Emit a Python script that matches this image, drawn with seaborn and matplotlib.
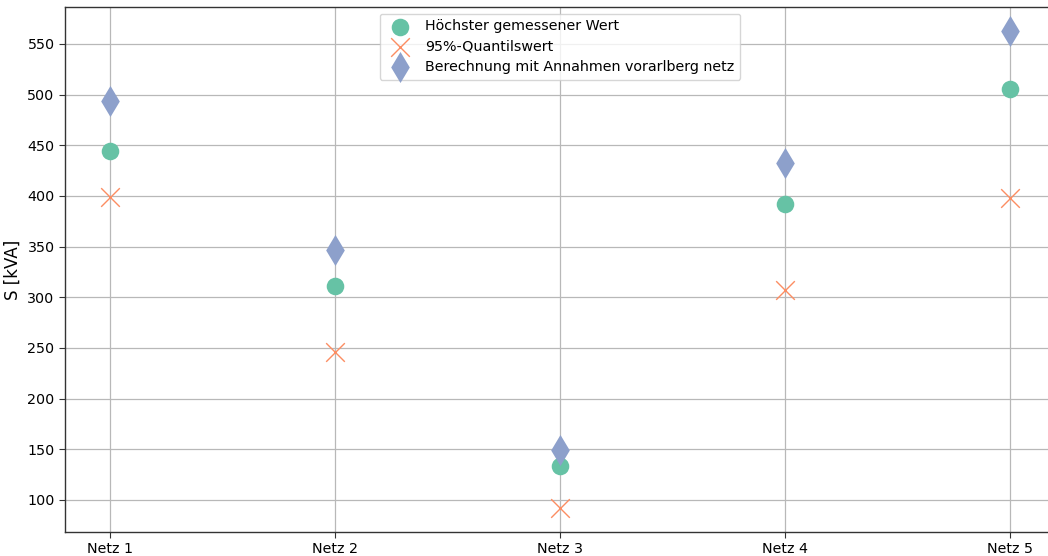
import matplotlib
matplotlib.use("Agg")
import matplotlib.pyplot as plt
import seaborn as sns
from matplotlib.ticker import MultipleLocator

netze = ["Netz 1", "Netz 2", "Netz 3", "Netz 4", "Netz 5"]
hoechster = [444, 311, 134, 392, 506]
quantil95 = [399, 246, 92, 307, 398]
berechnung = [494, 347, 149, 433, 563]
serien = ["Höchster gemessener Wert", "95%-Quantilswert",
          "Berechnung mit Annahmen vorarlberg netz"]

sns.set_style("ticks")
plt.rcParams["font.family"] = ["DejaVu Sans"]
plt.rcParams["text.color"] = "black"
plt.rcParams["axes.labelcolor"] = "black"
plt.rcParams["xtick.color"] = "black"
plt.rcParams["ytick.color"] = "black"

fig = plt.figure(figsize=(10.48, 5.56), dpi=100)
ax = fig.add_axes([65 / 1048, 24 / 556, 990 / 1048, 525 / 556])

pal = sns.color_palette("Set2", 3)
sns.scatterplot(x=netze, y=hoechster, marker="o", color=pal[0], s=160,
                linewidth=0, label=serien[0], ax=ax, zorder=3)
sns.scatterplot(x=netze, y=quantil95, marker="x", color=pal[1], s=180,
                linewidth=1.0, label=serien[1], ax=ax, zorder=3)
sns.scatterplot(x=netze, y=berechnung, marker="d", color=pal[2], s=250,
                linewidth=0, label=serien[2], ax=ax, zorder=3)

ax.grid(True, color="#b8b8b8", linewidth=0.9)
ax.set_axisbelow(True)
ax.set_xlabel("")
ax.set_ylabel("S [kVA]", fontsize=12)
ax.yaxis.set_major_locator(MultipleLocator(50))
ax.tick_params(axis="both", labelsize=10.3, length=4, color="#333333")
for sp in ax.spines.values():
    sp.set_color("#333333")
    sp.set_linewidth(1.0)
ax.set_xlim(-0.2, 4.2)
ax.set_ylim(68.4, 586.5)

leg = ax.legend(loc="upper center", bbox_to_anchor=(0.5, 1.001), fontsize=10.3,
                frameon=True, handletextpad=0.8, borderpad=0.4, labelspacing=0.45)
leg.get_frame().set_edgecolor("#cccccc")

fig.savefig("out.png", dpi=100)
